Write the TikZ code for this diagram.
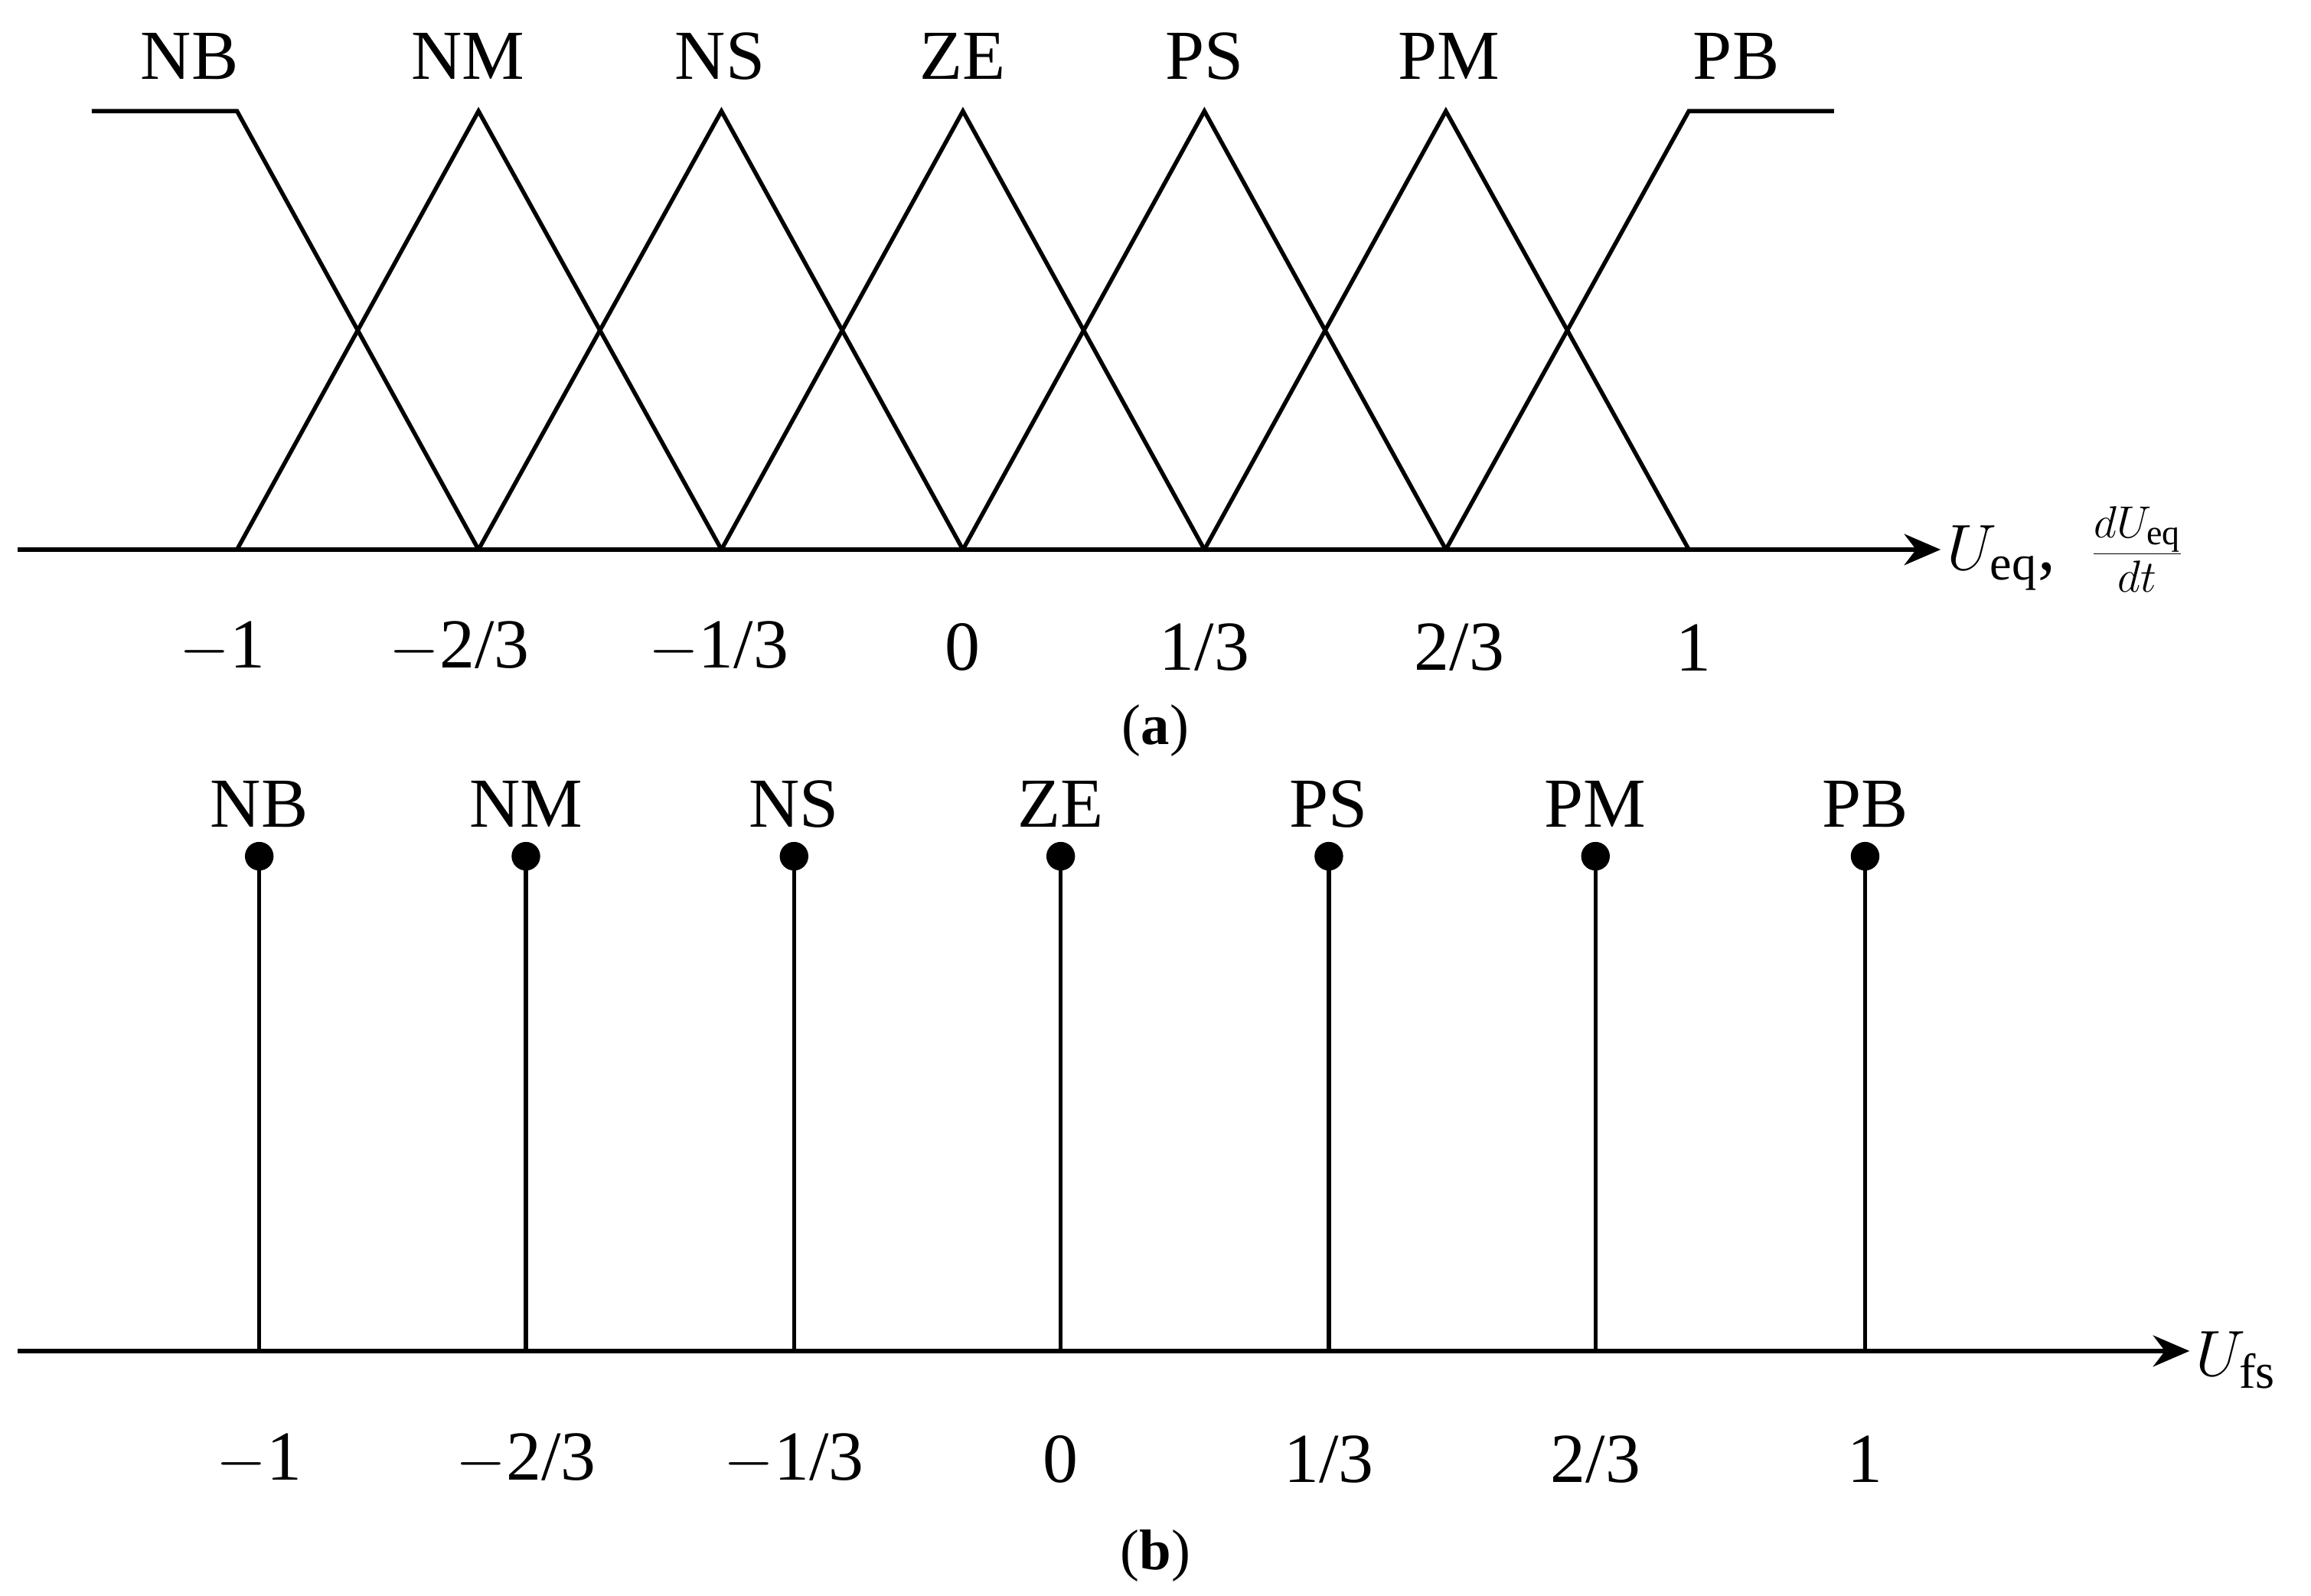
\documentclass[tikz,border=0pt]{standalone}
\usepackage{fontspec}
\setmainfont{Liberation Serif}
\usetikzlibrary{arrows.meta}
\begin{document}
\begin{tikzpicture}[x=0.02cm,y=-0.02cm,
  ln/.style={line width=1.6pt,line join=miter},
  ax/.style={line width=1.6pt,-{Stealth[length=14pt,width=12pt]}},
  lab/.style={font=\fontsize{27}{30}\selectfont,inner sep=0pt},
  dot/.style={circle,fill=black,inner sep=0pt,minimum size=11pt}]
\useasboundingbox (0,0) rectangle (1560,1077);
% panel a
\coordinate (a0) at (12,371); \coordinate (a1) at (1310,371);
\draw[ax] (a0) -- (a1);
\foreach \n/\x in {m1/160,m2/323,m3/487,z/650,p1/813,p2/976,p3/1140}{
  \coordinate (b\n) at (\x,371); \coordinate (t\n) at (\x,75);}
\coordinate (L) at (62,75); \coordinate (R) at (1238,75);
\draw[ln] (L) -- (tm1) -- (bm2);
\draw[ln] (bm1) -- (tm2) -- (bm3);
\draw[ln] (bm2) -- (tm3) -- (bz);
\draw[ln] (bm3) -- (tz) -- (bp1);
\draw[ln] (bz) -- (tp1) -- (bp2);
\draw[ln] (bp1) -- (tp2) -- (bp3);
\draw[ln] (bp2) -- (tp3) -- (R);
\foreach \t/\x in {NB/128,NM/316,NS/486,ZE/650,PS/813,PM/978,PB/1172}
  \node[lab] (la\t) at (\x,38) {\t};
\foreach \t/\x [count=\i] in {{$-$1}/150,{$-$2/3}/310,{$-$1/3}/485,{0}/650,{1/3}/813,{2/3}/985,{1}/1143}
  \node[lab] (ta\i) at (\x,437) {\t};
\node[lab,anchor=west] (axa) at (1314,371) {$U_{\mathrm{eq}}$,\ \ $\frac{dU_{\mathrm{eq}}}{dt}$};
\node[lab,font=\fontsize{22}{24}\selectfont] (capa) at (780,493) {(\textbf{a})};
% panel b
\coordinate (c0) at (12,912); \coordinate (c1) at (1478,912);
\draw[ax] (c0) -- (c1);
\foreach \t/\x/\v [count=\i] in {NB/175/{$-$1},NM/355/{$-$2/3},NS/536/{$-$1/3},ZE/716/{0},PS/897/{1/3},PM/1077/{2/3},PB/1259/{1}}{
  \coordinate (s\i) at (\x,912);
  \node[dot] (d\i) at (\x,578) {};
  \draw[ln] (s\i) -- (d\i.center);
  \node[lab] (lb\i) at (\x,543) {\t};
  \node[lab] (tb\i) at (\x,985) {\v};}
\node[lab,anchor=west] (axb) at (1482,918) {$U_{\mathrm{fs}}$};
\node[lab,font=\fontsize{22}{24}\selectfont] (capb) at (780,1050) {(\textbf{b})};
\end{tikzpicture}
\end{document}
